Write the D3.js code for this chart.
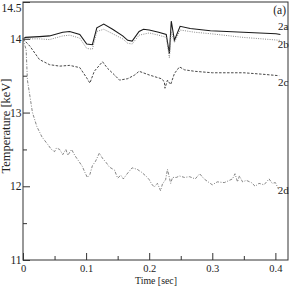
<!DOCTYPE html>
<html>
<head>
<meta charset="utf-8">
<script src="https://cdn.jsdelivr.net/npm/d3@7"></script>
<style>
	body { margin: 0; background: white; }
	text { font-family: 'Liberation Serif', 'DejaVu Serif', serif; fill: #222; }
</style>
</head>
<body>
<div id="chart"></div>
<script>
// time axis values [sec] and temperatures [keV]
var t_2a = [0, .004, .026, .042, .063, .074, .090, .101, .110, .117, .128, .142, .158, .166, .173, .184, .191, .200, .215, .227, .232, .235, .240, .249, .265, .297, .349, .401, .408];
var v_2a = [14.00, 14.02, 14.03, 14.04, 14.09, 14.10, 14.06, 13.93, 13.92, 14.15, 14.20, 14.13, 14.04, 13.98, 13.97, 14.10, 14.13, 14.12, 14.09, 14.06, 13.80, 14.24, 13.98, 14.17, 14.14, 14.11, 14.09, 14.07, 14.06];

var t_2b = [0, .026, .042, .063, .074, .090, .101, .110, .117, .128, .142, .158, .166, .173, .184, .200, .215, .227, .232, .235, .240, .249, .272, .297, .349, .408];
var v_2b = [14.00, 14.00, 13.99, 14.04, 14.05, 14.01, 13.87, 13.86, 14.10, 14.13, 14.07, 14.00, 13.94, 13.93, 14.05, 14.08, 14.05, 14.02, 13.74, 14.10, 13.95, 14.12, 14.09, 14.07, 14.02, 13.98];

var t_2c = [0, .011, .026, .042, .058, .074, .090, .101, .106, .113, .126, .134, .145, .153, .166, .177, .184, .200, .219, .224, .225, .229, .234, .240, .248, .256, .272, .300, .350, .380, .406];
var v_2c = [14.00, 13.90, 13.72, 13.65, 13.63, 13.64, 13.61, 13.47, 13.40, 13.56, 13.69, 13.60, 13.51, 13.44, 13.46, 13.51, 13.56, 13.51, 13.46, 13.42, 13.33, 13.44, 13.38, 13.53, 13.62, 13.58, 13.56, 13.54, 13.54, 13.52, 13.50];

var t_2d = [0, .005, .007, .011, .015, .022, .030, .039, .045, .050, .053, .058, .063, .068, .071, .077, .082, .090, .094, .098, .102, .106, .110, .115, .121, .126, .132, .137, .145, .150, .155, .159, .166, .173, .181, .188, .196, .200, .204, .208, .213, .218, .221, .226, .229, .234, .237, .243, .248, .256, .264, .273, .280, .287, .295, .300, .308, .319, .327, .332, .336, .340, .343, .348, .354, .362, .368, .374, .382, .390, .395, .400, .405];
var v_2d = [14.00, 13.85, 13.44, 13.22, 13.00, 12.81, 12.67, 12.57, 12.50, 12.47, 12.52, 12.50, 12.43, 12.50, 12.42, 12.50, 12.42, 12.32, 12.27, 12.19, 12.12, 12.16, 12.28, 12.34, 12.45, 12.38, 12.32, 12.26, 12.22, 12.11, 12.15, 12.10, 12.18, 12.25, 12.23, 12.19, 12.13, 12.09, 12.03, 11.99, 12.04, 11.94, 12.03, 12.09, 12.23, 12.04, 12.12, 12.12, 12.14, 12.12, 12.13, 12.10, 12.17, 12.10, 12.05, 12.02, 12.06, 12.05, 12.08, 12.10, 12.17, 12.06, 12.14, 12.06, 12.08, 12.05, 12.00, 12.04, 12.02, 12.10, 12.04, 12.05, 11.96];

var x_ticks = [0, 0.1, 0.2, 0.3, 0.4];
var x_minor = [0.05, 0.15, 0.25, 0.35];
var y_ticks = [11, 12, 13, 14, 14.5];
var y_minor = [11.5, 12.5, 13.5];

var series = [
	{name: '2a', t: t_2a, v: v_2a, color: '#1a1a1a', dash: null, width: 1.1},
	{name: '2b', t: t_2b, v: v_2b, color: '#8a8a8a', dash: '1,1.3', width: 1},
	{name: '2c', t: t_2c, v: v_2c, color: '#333', dash: '2.5,1.5', width: 0.9},
	{name: '2d', t: t_2d, v: v_2d, color: '#666', dash: '3,1.5,1,1.5', width: 0.8}
];

function draw_chart() {
	var margin = {top: 2, right: 1, bottom: 29, left: 23};
	var width = 289 - margin.left - margin.right;
	var height = 289 - margin.top - margin.bottom;

	var svg = d3.select('#chart')
		.append('svg')
			.attr('width', 289)
			.attr('height', 289);

	// y-axis label
	svg.append('text')
		.attr('text-anchor', 'middle')
		.attr('transform', 'translate(10,126) rotate(-90)')
		.attr('textLength', 95)
		.attr('lengthAdjust', 'spacingAndGlyphs')
		.style('font-size', '11.5px')
		.text('Temperature [keV]');

	// x-axis label
	svg.append('text')
		.attr('text-anchor', 'middle')
		.attr('x', 156)
		.attr('y', 284)
		.attr('textLength', 42)
		.attr('lengthAdjust', 'spacingAndGlyphs')
		.style('font-size', '10.5px')
		.text('Time [sec]');

	var g = svg.append('g')
		.attr('transform', 'translate(' + margin.left + ',' + margin.top + ')');

	var x = d3.scaleLinear()
		.domain([0, 0.42])
		.range([0, width]);
	var y = d3.scaleLinear()
		.domain([11, 14.5])
		.range([height, 0]);

	// frame
	g.append('rect')
		.attr('x', 0)
		.attr('y', 0)
		.attr('width', width)
		.attr('height', height)
		.style('fill', 'none')
		.style('stroke', '#333')
		.style('stroke-width', 1);

	// x axis, ticks pointing inward
	var xa = g.append('g')
		.attr('class', 'axis')
		.attr('transform', 'translate(0,' + height + ')')
		.call(d3.axisBottom(x).tickValues(x_ticks).tickSize(-7).tickPadding(4.5)
			.tickFormat(function(d) { return d === 0 ? '0' : d3.format('.1f')(d); }));
	g.append('g')
		.attr('transform', 'translate(0,' + height + ')')
		.call(d3.axisBottom(x).tickValues(x_minor).tickSize(-4).tickFormat(''));

	// y axis
	var ya = g.append('g')
		.attr('class', 'axis')
		.call(d3.axisLeft(y).tickValues(y_ticks).tickSize(-7)
			.tickFormat(function(d) { return String(d); }));
	g.append('g')
		.call(d3.axisLeft(y).tickValues(y_minor).tickSize(-4).tickFormat(''));

	g.selectAll('.domain').remove();
	g.selectAll('.tick line').style('stroke', '#333');
	g.selectAll('.tick text')
		.style('font-family', "'Liberation Serif', serif")
		.style('fill', '#222');
	xa.selectAll('.tick text').style('font-size', '10.5px');
	ya.selectAll('.tick text').style('font-size', '11.5px').attr('x', -1.5);
	ya.selectAll('.tick')
		.filter(function(d) { return d === 14.5; })
		.select('text').attr('dy', '0.8em');

	// curves
	var line = d3.line()
		.x(function(d) { return x(d[0]); })
		.y(function(d) { return y(d[1]); });

	g.selectAll('path.curve')
		.data(series)
		.enter()
		.append('path')
			.attr('class', 'curve')
			.attr('d', function(s) { return line(d3.zip(s.t, s.v)); })
			.style('fill', 'none')
			.style('stroke', function(s) { return s.color; })
			.style('stroke-width', function(s) { return s.width; })
			.style('stroke-dasharray', function(s) { return s.dash; });

	// curve labels
	var label_y = {'2a': 14.12, '2b': 13.88, '2c': 13.36, '2d': 11.9};
	g.selectAll('text.lab')
		.data(series)
		.enter()
		.append('text')
			.attr('class', 'lab')
			.attr('text-anchor', 'middle')
			.attr('x', x(0.4125))
			.attr('y', function(s) { return y(label_y[s.name]); })
			.style('font-size', '11px')
			.text(function(s) { return s.name; });

	// panel tag
	g.append('text')
		.attr('text-anchor', 'end')
		.attr('x', width - 2)
		.attr('y', 12)
		.style('font-size', '11.5px')
		.text('(a)');
}

draw_chart();
</script>
</body>
</html>
